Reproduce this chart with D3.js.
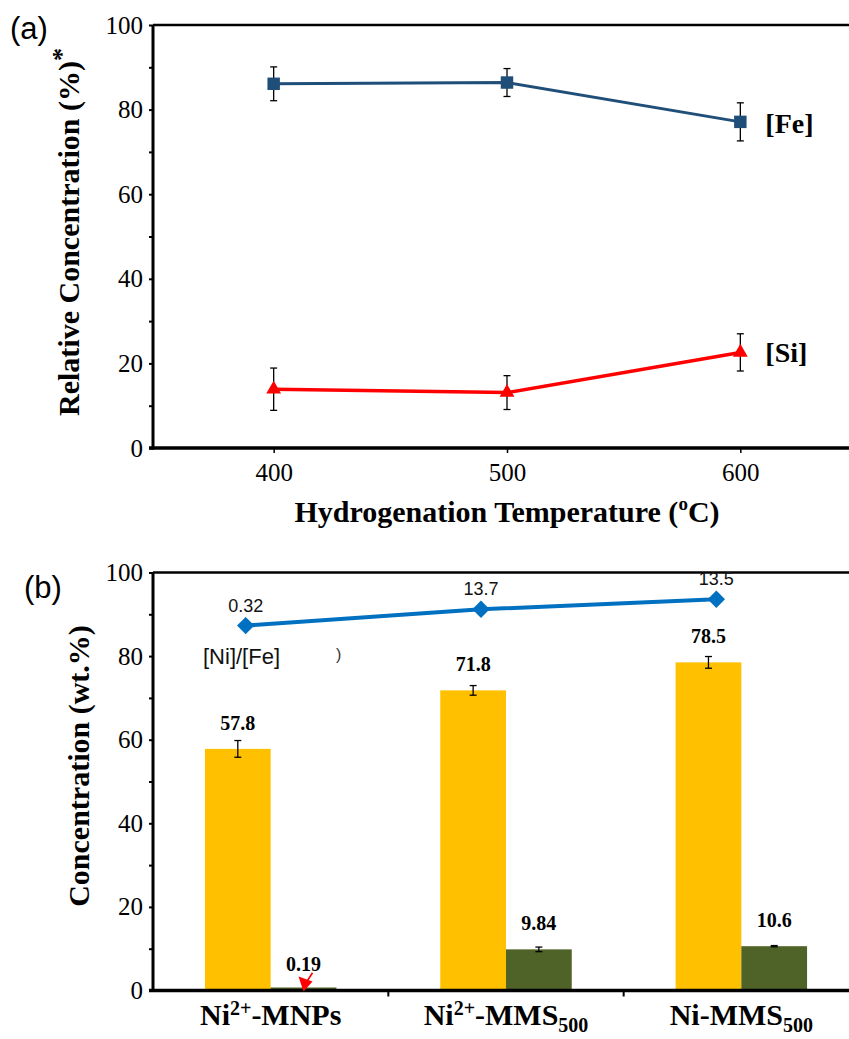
<!DOCTYPE html>
<html>
<head>
<meta charset="utf-8">
<script src="https://cdn.jsdelivr.net/npm/d3@7"></script>
<style>
  body { margin: 0; background: #fff; }
  svg { display: block; }
  .serif { font-family: "Liberation Serif", "Times New Roman", serif; }
  .sans { font-family: "Liberation Sans", Arial, sans-serif; }
</style>
</head>
<body>
<script>
// (a) relative concentration vs hydrogenation temperature
var temps = ["400", "500", "600"];
var feMean = [86.1, 86.4, 77.1];
var feErr = [4.0, 3.3, 4.5];
var siMean = [13.9, 13.1, 22.6];
var siErr = [5.0, 4.0, 4.4];
var yTicksA = [0, 10, 20, 30, 40, 50, 60, 70, 80, 90, 100];

// (b) concentration of Fe (yellow) and Ni (green) per sample
var samples = ["Ni2+-MNPs", "Ni2+-MMS500", "Ni-MMS500"];
var sampleParts = [
    [["Ni", ""], ["2+", "sup"], ["-MNPs", ""]],
    [["Ni", ""], ["2+", "sup"], ["-MMS", ""], ["500", "sub"]],
    [["Ni-MMS", ""], ["500", "sub"]]
];
var feConc = [57.8, 71.8, 78.5];
var feConcErr = [2.0, 1.15, 1.4];
var niConc = [0.19, 9.84, 10.6];
var niConcErr = [0, 0.55, 0.15];
var ratioHeight = [87.3, 91.2, 93.6];   // where the [Ni]/[Fe] points sit on the left axis
var ratioLabels = ["0.32", "13.7", "13.5"];
var yTicksB = [0, 10, 20, 30, 40, 50, 60, 70, 80, 90, 100];

var width = 849, height = 1039;
var left = 153, right = 849;

var svg = d3.select("body").append("svg")
    .attr("width", width)
    .attr("height", height);

function leftAxis(g, y, ticks) {
    var ax = g.append("g")
        .attr("class", "serif")
        .attr("transform", "translate(" + left + ",0)")
        .call(d3.axisLeft(y)
            .tickValues(ticks)
            .tickSize(4)
            .tickSizeOuter(0)
            .tickPadding(6)
            .tickFormat(function(d) { return d % 20 === 0 ? d : ""; }));
    ax.select(".domain").remove();
    ax.selectAll(".tick line").attr("stroke", "#000").attr("stroke-width", 2);
    ax.selectAll(".tick text").attr("font-size", 25).attr("fill", "#000")
        .attr("font-family", "Liberation Serif");
    // frame: left axis, bottom axis, top border
    g.append("line").attr("x1", left).attr("x2", left)
        .attr("y1", y(0) + 1.5).attr("y2", y(100))
        .attr("stroke", "#000").attr("stroke-width", 3);
    g.append("line").attr("x1", left - 4).attr("x2", right)
        .attr("y1", y(0)).attr("y2", y(0))
        .attr("stroke", "#000").attr("stroke-width", 3.5);
    g.append("line").attr("x1", left).attr("x2", right)
        .attr("y1", y(100)).attr("y2", y(100))
        .attr("stroke", "#000").attr("stroke-width", 2.5);
}

function errorBar(g, x, yTop, yBot) {
    g.append("line").attr("x1", x).attr("x2", x).attr("y1", yTop).attr("y2", yBot)
        .attr("stroke", "#000").attr("stroke-width", 1.3);
    [yTop, yBot].forEach(function(yy) {
        g.append("line").attr("x1", x - 3.5).attr("x2", x + 3.5).attr("y1", yy).attr("y2", yy)
            .attr("stroke", "#000").attr("stroke-width", 1.3);
    });
}

// ---------------- panel (a) ----------------
var gA = svg.append("g");
var xA = d3.scalePoint().domain(temps).range([157, 857]).padding(0.5);
var yA = d3.scaleLinear().domain([0, 100]).range([448, 25]);

leftAxis(gA, yA, yTicksA);

var xAxA = gA.append("g")
    .attr("class", "serif")
    .attr("transform", "translate(0," + yA(0) + ")")
    .call(d3.axisBottom(xA).tickSize(5).tickPadding(10));
xAxA.select(".domain").remove();
xAxA.selectAll(".tick line").attr("stroke", "#000").attr("stroke-width", 1.5);
xAxA.selectAll(".tick text").attr("font-size", 25).attr("fill", "#000")
    .attr("font-family", "Liberation Serif");

var feData = temps.map(function(t, i) { return {t: t, v: feMean[i], e: feErr[i]}; });
var siData = temps.map(function(t, i) { return {t: t, v: siMean[i], e: siErr[i]}; });

var lineA = d3.line()
    .x(function(d) { return xA(d.t); })
    .y(function(d) { return yA(d.v); });

feData.forEach(function(d) { errorBar(gA, xA(d.t), yA(d.v + d.e), yA(d.v - d.e)); });
siData.forEach(function(d) { errorBar(gA, xA(d.t), yA(d.v + d.e), yA(d.v - d.e)); });

gA.append("path").datum(feData)
    .attr("d", lineA).attr("fill", "none")
    .attr("stroke", "#1f4e79").attr("stroke-width", 3);
gA.append("path").datum(siData)
    .attr("d", lineA).attr("fill", "none")
    .attr("stroke", "#ff0000").attr("stroke-width", 3.5);

gA.selectAll(".fe").data(feData).enter().append("path")
    .attr("d", d3.symbol(d3.symbolSquare, 155))
    .attr("transform", function(d) { return "translate(" + xA(d.t) + "," + yA(d.v) + ")"; })
    .attr("fill", "#1f4e79");
gA.selectAll(".si").data(siData).enter().append("path")
    .attr("d", d3.symbol(d3.symbolTriangle, 95))
    .attr("transform", function(d) { return "translate(" + xA(d.t) + "," + yA(d.v) + ")"; })
    .attr("fill", "#ff0000");

gA.append("text").attr("class", "serif")
    .attr("x", xA("600") + 25).attr("y", yA(feMean[2]) + 11)
    .attr("font-size", 28).attr("font-weight", "bold").text("[Fe]");
gA.append("text").attr("class", "serif")
    .attr("x", xA("600") + 25).attr("y", yA(siMean[2]) + 10)
    .attr("font-size", 28).attr("font-weight", "bold").text("[Si]");

var tA = gA.append("text").attr("class", "serif")
    .attr("x", 507).attr("y", 522)
    .attr("text-anchor", "middle")
    .attr("font-size", 30).attr("font-weight", "bold");
tA.append("tspan").text("Hydrogenation Temperature (");
tA.append("tspan").attr("font-size", 19).attr("dy", -12).text("o");
tA.append("tspan").attr("dy", 12).text("C)");

var yTitleA = gA.append("text").attr("class", "serif")
    .attr("transform", "translate(79,232) rotate(-90)")
    .attr("text-anchor", "middle")
    .attr("font-size", 30).attr("font-weight", "bold");
yTitleA.append("tspan").text("Relative Concentration (%)");
yTitleA.append("tspan").attr("dy", -9).attr("font-size", 26).text("*");

gA.append("text").attr("class", "sans")
    .attr("x", 10).attr("y", 39)
    .attr("font-size", 31).text("(a)");

// ---------------- panel (b) ----------------
var gB = svg.append("g");
var x0 = d3.scaleBand().domain(samples).range([153, 859]);
var x1 = d3.scaleBand().domain(["Fe", "Ni"]).range([0, x0.bandwidth()])
    .paddingInner(0).paddingOuter(0.79);
var yB = d3.scaleLinear().domain([0, 100]).range([990.5, 572.5]);

var barData = samples.map(function(s, i) {
    return [
        {s: s, k: "Fe", v: feConc[i], e: feConcErr[i]},
        {s: s, k: "Ni", v: niConc[i], e: niConcErr[i]}
    ];
});
var colors = {Fe: "#ffc000", Ni: "#4f6228"};
var minBar = 3; // keep very small bars visible

var groups = gB.selectAll(".grp").data(barData).enter().append("g")
    .attr("transform", function(d) { return "translate(" + x0(d[0].s) + ",0)"; });

groups.selectAll("rect").data(function(d) { return d; }).enter().append("rect")
    .attr("x", function(d) { return x1(d.k); })
    .attr("y", function(d) { return Math.min(yB(d.v), yB(0) - minBar); })
    .attr("width", x1.bandwidth())
    .attr("height", function(d) { return Math.max(yB(0) - yB(d.v), minBar); })
    .attr("fill", function(d) { return colors[d.k]; });

barData.forEach(function(pair) {
    pair.forEach(function(d) {
        var cx = x0(d.s) + x1(d.k) + x1.bandwidth() / 2;
        if (d.e > 0) errorBar(gB, cx, yB(d.v + d.e), yB(d.v - d.e));
        gB.append("text").attr("class", "serif")
            .attr("x", cx).attr("y", yB(d.v) - 19)
            .attr("text-anchor", "middle")
            .attr("font-size", 20).attr("font-weight", "bold")
            .text(d.v);
    });
});

leftAxis(gB, yB, yTicksB);

// tick marks between sample groups
gB.selectAll(".xt").data(samples.slice(1)).enter().append("line")
    .attr("x1", function(d) { return x0(d); }).attr("x2", function(d) { return x0(d); })
    .attr("y1", yB(0)).attr("y2", yB(0) + 6)
    .attr("stroke", "#000").attr("stroke-width", 2);

// red arrow on the tiny Ni bar
var arrowX = x0(samples[0]) + x1("Ni") + x1.bandwidth() / 2;
gB.append("line")
    .attr("x1", arrowX + 9).attr("y1", yB(niConc[0]) - 17)
    .attr("x2", arrowX + 4).attr("y2", yB(0) - 10)
    .attr("stroke", "#ff0000").attr("stroke-width", 1.6);
gB.append("path")
    .attr("d", "M" + (arrowX - 5) + "," + (yB(0) - 14) + "L" + (arrowX + 9) + "," + (yB(0) - 9) +
        "L" + arrowX + "," + (yB(0) + 1) + "Z")
    .attr("fill", "#ff0000");

// [Ni]/[Fe] series
var ratioData = samples.map(function(s, i) { return {s: s, v: ratioHeight[i], lab: ratioLabels[i]}; });
var rx = function(d) { return x0(d.s) + x0.bandwidth() / 2 - 25; };
gB.append("path").datum(ratioData)
    .attr("d", d3.line().x(rx).y(function(d) { return yB(d.v); }))
    .attr("fill", "none").attr("stroke", "#0070c0").attr("stroke-width", 4);
gB.selectAll(".dia").data(ratioData).enter().append("path")
    .attr("d", d3.symbol(d3.symbolSquare, 150))
    .attr("transform", function(d) { return "translate(" + rx(d) + "," + yB(d.v) + ") rotate(45)"; })
    .attr("fill", "#0070c0");
gB.selectAll(".rlab").data(ratioData).enter().append("text")
    .attr("class", "sans")
    .attr("x", rx).attr("y", function(d) { return yB(d.v) - 14; })
    .attr("text-anchor", "middle").attr("font-size", 18).attr("fill", "#111")
    .text(function(d) { return d.lab; });

gB.append("text").attr("class", "sans")
    .attr("x", 203).attr("y", 664)
    .attr("font-size", 22).attr("fill", "#111").text("[Ni]/[Fe]");
gB.append("text").attr("class", "sans")
    .attr("x", 336).attr("y", 660)
    .attr("font-size", 16).attr("fill", "#333").text(")");

// category labels with super/subscripts
sampleParts.forEach(function(parts, i) {
    var t = gB.append("text").attr("class", "serif")
        .attr("x", x0(samples[i]) + x0.bandwidth() / 2)
        .attr("y", 1025)
        .attr("text-anchor", "middle")
        .attr("font-size", 30).attr("font-weight", "bold");
    var shift = 0;
    parts.forEach(function(p) {
        var ts = t.append("tspan").text(p[0]);
        var target = p[1] === "sup" ? -10 : p[1] === "sub" ? 7 : 0;
        ts.attr("dy", target - shift);
        shift = target;
        if (p[1]) ts.attr("font-size", 20);
    });
});

gB.append("text").attr("class", "serif")
    .attr("transform", "translate(89,766) rotate(-90)")
    .attr("text-anchor", "middle")
    .attr("font-size", 30).attr("font-weight", "bold")
    .text("Concentration (wt.%)");

gB.append("text").attr("class", "sans")
    .attr("x", 24).attr("y", 598)
    .attr("font-size", 31).text("(b)");
</script>
</body>
</html>
